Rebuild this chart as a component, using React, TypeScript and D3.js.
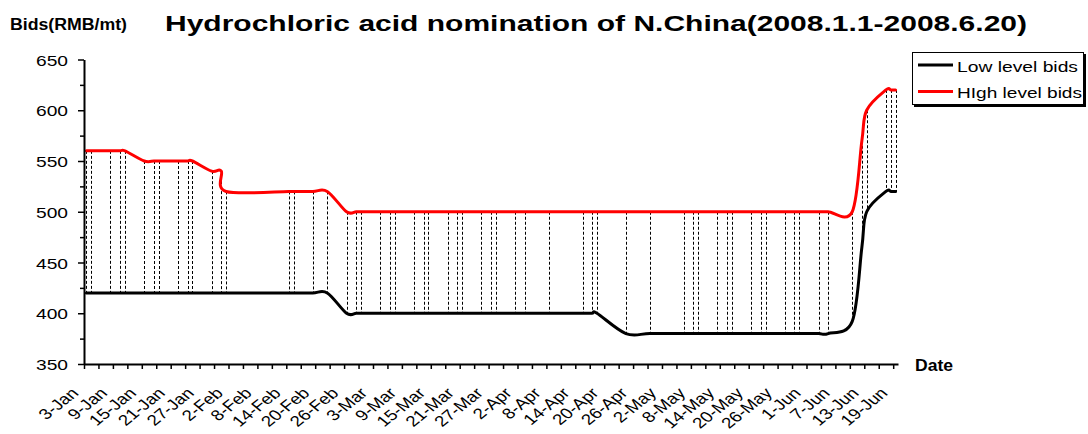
import React, { useEffect, useRef } from 'react';
import * as d3 from 'd3';

// days with bids, 2008
const bidDates = [
  '2008-01-03', '2008-01-04', '2008-01-08', '2008-01-10', '2008-01-11',
  '2008-01-15', '2008-01-17', '2008-01-18', '2008-01-22', '2008-01-24', '2008-01-25',
  '2008-01-29', '2008-01-31', '2008-02-01',
  '2008-02-14', '2008-02-15', '2008-02-19', '2008-02-22',
  '2008-02-26', '2008-02-28', '2008-02-29',
  '2008-03-04', '2008-03-06', '2008-03-07', '2008-03-11', '2008-03-13', '2008-03-14',
  '2008-03-18', '2008-03-20', '2008-03-21', '2008-03-25', '2008-03-27', '2008-03-28',
  '2008-04-01', '2008-04-03', '2008-04-08', '2008-04-15', '2008-04-17', '2008-04-18',
  '2008-04-24', '2008-04-29',
  '2008-05-06', '2008-05-08', '2008-05-09', '2008-05-13', '2008-05-15', '2008-05-16',
  '2008-05-20', '2008-05-22', '2008-05-23', '2008-05-27', '2008-05-29', '2008-05-30',
  '2008-06-03', '2008-06-05', '2008-06-10', '2008-06-12', '2008-06-13',
  '2008-06-17', '2008-06-18', '2008-06-19',
];

const lowBids = [
  420, 420, 420, 420, 420,
  420, 420, 420, 420, 420, 420,
  420, 420, 420,
  420, 420, 420, 420,
  400, 400, 400,
  400, 400, 400, 400, 400, 400,
  400, 400, 400, 400, 400, 400,
  400, 400, 400, 400, 400, 400,
  380, 380,
  380, 380, 380, 380, 380, 380,
  380, 380, 380, 380, 380, 380,
  380, 380, 392, 465, 500,
  520, 520, 520,
];

const highBids = [
  560, 560, 560, 560, 560,
  550, 550, 550, 550, 550, 550,
  540, 540, 520,
  520, 520, 520, 520,
  500, 500, 500,
  500, 500, 500, 500, 500, 500,
  500, 500, 500, 500, 500, 500,
  500, 500, 500, 500, 500, 500,
  500, 500,
  500, 500, 500, 500, 500, 500,
  500, 500, 500, 500, 500, 500,
  500, 500, 500, 570, 600,
  620, 620, 620,
];

const seriesNames = ['Low level bids', 'HIgh level bids'];
const seriesColors = ['#000000', '#ff0000'];
const yTicks = [350, 400, 450, 500, 550, 600, 650];
const yMinorTicks = [375, 425, 475, 525, 575, 625];
const axisStart = '2008-01-03';
const axisEnd = '2008-06-20';
const tickEveryDays = 3;

const W = 1088;
const H = 434;
const FONT = "'Liberation Sans', Arial, sans-serif";
const SX = 1.28; // the picture is stretched sideways

const App: React.FC = () => {
  const svgRef = useRef<SVGSVGElement>(null);

  useEffect(() => {
    if (!svgRef.current) return;
    const svg = d3.select(svgRef.current);
    svg.selectAll('*').remove();

    const parse = d3.utcParse('%Y-%m-%d');
    const start = parse(axisStart) as Date;
    const end = parse(axisEnd) as Date;
    const dates = bidDates.map(d => parse(d) as Date);
    const x = d3.scaleUtc().domain([start, end]).range([84, 898]);
    const y = d3.scaleLinear().domain([350, 650]).range([364, 59.5]);
    const mid = (d: Date) => x(d3.utcHour.offset(d, 12));

    svg.append('rect').attr('width', W).attr('height', H).attr('fill', '#fff');

    // high-low lines
    svg.append('g')
      .selectAll('line')
      .data(dates)
      .join('line')
      .attr('x1', d => Math.round(mid(d)) + 0.5)
      .attr('x2', d => Math.round(mid(d)) + 0.5)
      .attr('y1', (d, i) => y(highBids[i]))
      .attr('y2', (d, i) => y(lowBids[i]))
      .attr('stroke', '#000')
      .attr('stroke-width', 1)
      .attr('stroke-dasharray', '3,2');

    // series
    const line = d3.line<number>()
      .x((v, i) => mid(dates[i]))
      .y(v => y(v))
      .curve(d3.curveCardinal.tension(0));

    [lowBids, highBids].forEach((vals, k) => {
      svg.append('path')
        .datum(vals)
        .attr('d', line)
        .attr('fill', 'none')
        .attr('stroke', seriesColors[k])
        .attr('stroke-width', 3)
        .attr('stroke-linejoin', 'round')
        .attr('stroke-linecap', 'round');
    });

    // y axis
    const yAxis = svg.append('g')
      .attr('transform', 'translate(84,0)')
      .call(d3.axisLeft(y).tickValues(yTicks).tickSize(6).tickSizeOuter(0));
    yAxis.select('.domain').attr('stroke-width', 2);
    yAxis.selectAll('.tick line').attr('stroke-width', 1.5);
    yAxis.selectAll('.tick text')
      .attr('x', null)
      .attr('dy', '0.37em')
      .attr('transform', `translate(-16,0) scale(${SX},1)`)
      .attr('fill', '#000')
      .style('font-family', FONT)
      .style('font-size', '15px');

    svg.append('g')
      .attr('transform', 'translate(84,0)')
      .call(d3.axisLeft(y).tickValues(yMinorTicks).tickSize(4).tickFormat(() => ''))
      .call(g => g.select('.domain').remove())
      .selectAll('.tick line').attr('stroke-width', 1.5);

    // x axis
    const ticks = d3.utcDay.range(start, end).filter((d, i) => i % tickEveryDays === 0);
    const fmt = d3.utcFormat('%-d-%b');
    const xAxis = svg.append('g')
      .attr('transform', 'translate(0,364)')
      .call(d3.axisBottom(x)
        .tickValues(ticks)
        .tickSize(5)
        .tickSizeOuter(0)
        .tickFormat((d, i) => (i % 2 === 0 ? fmt(d as Date) : '')));
    xAxis.select('.domain').attr('stroke-width', 2);
    xAxis.selectAll('.tick line').attr('stroke-width', 1.5);
    xAxis.selectAll('.tick text')
      .attr('y', null)
      .attr('dy', null)
      .attr('transform', `translate(-5,30) scale(1.25,1) rotate(-45)`)
      .style('text-anchor', 'end')
      .attr('fill', '#000')
      .style('font-family', FONT)
      .style('font-size', '15px');

    // titles
    svg.append('text')
      .attr('x', 165).attr('y', 31)
      .attr('textLength', 862).attr('lengthAdjust', 'spacingAndGlyphs')
      .style('font-family', FONT).style('font-size', '22px').style('font-weight', 'bold')
      .text('Hydrochloric acid nomination of N.China(2008.1.1-2008.6.20)');

    svg.append('text')
      .attr('x', 10).attr('y', 30)
      .attr('textLength', 117).attr('lengthAdjust', 'spacingAndGlyphs')
      .style('font-family', FONT).style('font-size', '16px').style('font-weight', 'bold')
      .text('Bids(RMB/mt)');

    svg.append('text')
      .attr('x', 915).attr('y', 371)
      .attr('textLength', 38).attr('lengthAdjust', 'spacingAndGlyphs')
      .style('font-family', FONT).style('font-size', '16px').style('font-weight', 'bold')
      .text('Date');

    // legend
    const lg = svg.append('g');
    lg.append('rect').attr('x', 914).attr('y', 54).attr('width', 172).attr('height', 53).attr('fill', '#000');
    lg.append('rect').attr('x', 912.5).attr('y', 52.5).attr('width', 171).attr('height', 52)
      .attr('fill', '#fff').attr('stroke', '#000').attr('stroke-width', 1);
    seriesNames.forEach((name, k) => {
      const ly = 65 + k * 26.5;
      lg.append('line').attr('x1', 918).attr('x2', 953).attr('y1', ly).attr('y2', ly)
        .attr('stroke', seriesColors[k]).attr('stroke-width', 3);
      lg.append('text')
        .attr('x', 957).attr('y', ly + 6.5)
        .attr('textLength', k === 0 ? 121 : 125).attr('lengthAdjust', 'spacingAndGlyphs')
        .style('font-family', FONT).style('font-size', '15px')
        .text(name);
    });
  }, []);

  return (
    <div style={{ position: 'absolute', left: 0, top: 0 }}>
      <svg ref={svgRef} width={W} height={H} />
    </div>
  );
};

export default App;
